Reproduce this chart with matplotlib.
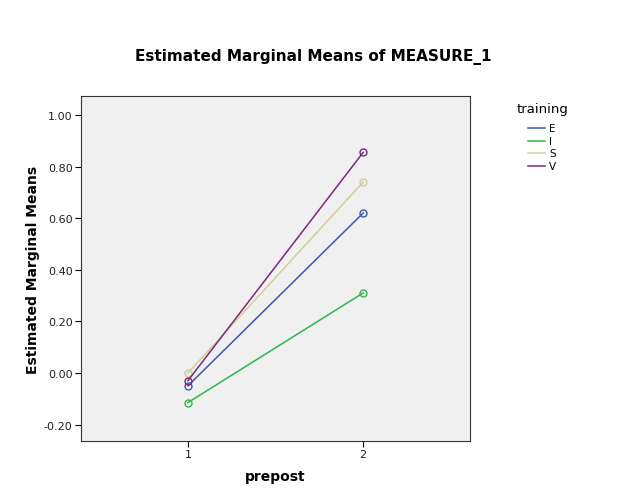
import matplotlib
matplotlib.use("Agg")
import matplotlib.pyplot as plt
from matplotlib.lines import Line2D

# estimated marginal means
prepost = [1, 2]
groups = ["E", "I", "S", "V"]
mean_E = [-0.05, 0.62]
mean_I = [-0.115, 0.31]
mean_S = [0.0, 0.74]
mean_V = [-0.03, 0.855]
colors = ["#3E58AC", "#2EB848", "#D3CE97", "#7C287D"]

yticks = [-0.2, 0.0, 0.2, 0.4, 0.6, 0.8, 1.0]

W, H = 627, 502
fig = plt.figure(figsize=(W / 100, H / 100), dpi=100)
ax = fig.add_axes([0.129, 0.1195, 0.621, 0.6875])
ax.set_facecolor("#f0f0f0")

for name, vals, c in zip(groups, [mean_E, mean_I, mean_S, mean_V], colors):
    ax.plot(prepost, vals, color=c, lw=1.1, marker="o", ms=5,
            mfc="none", mec=c, mew=1.0)

ax.set_xlim(0.389, 2.611)
ax.set_ylim(-0.264, 1.074)
ax.set_xticks(prepost)
ax.set_xticklabels(["1", "2"])
ax.set_yticks(yticks)
ax.set_yticklabels(["%.2f" % v for v in yticks])
ax.tick_params(labelsize=8, length=4, width=0.8, direction="out",
               labelcolor="#222222", pad=2)
for s in ax.spines.values():
    s.set_linewidth(0.8)
    s.set_color("#333333")

ax.set_xlabel("prepost", fontsize=10, fontweight="bold", labelpad=7)
ax.set_ylabel("Estimated Marginal Means", fontsize=10, fontweight="bold", labelpad=3)
fig.text(0.5, 1 - 57 / H, "Estimated Marginal Means of MEASURE_1", ha="center",
         va="center", fontsize=11, fontweight="bold")

# legend drawn by hand to place it like the original
fig.text(517 / W, 1 - 110 / H, "training", ha="left", va="center", fontsize=9.5)
for i, (g, c) in enumerate(zip(groups, colors)):
    yy = 1 - (129 + i * 12.7) / H
    fig.add_artist(Line2D([528 / W, 545 / W], [yy, yy], color=c, lw=1.1,
                          transform=fig.transFigure))
    fig.text(549 / W, yy, g, ha="left", va="center", fontsize=7.5)

fig.savefig("out.png", dpi=100)
